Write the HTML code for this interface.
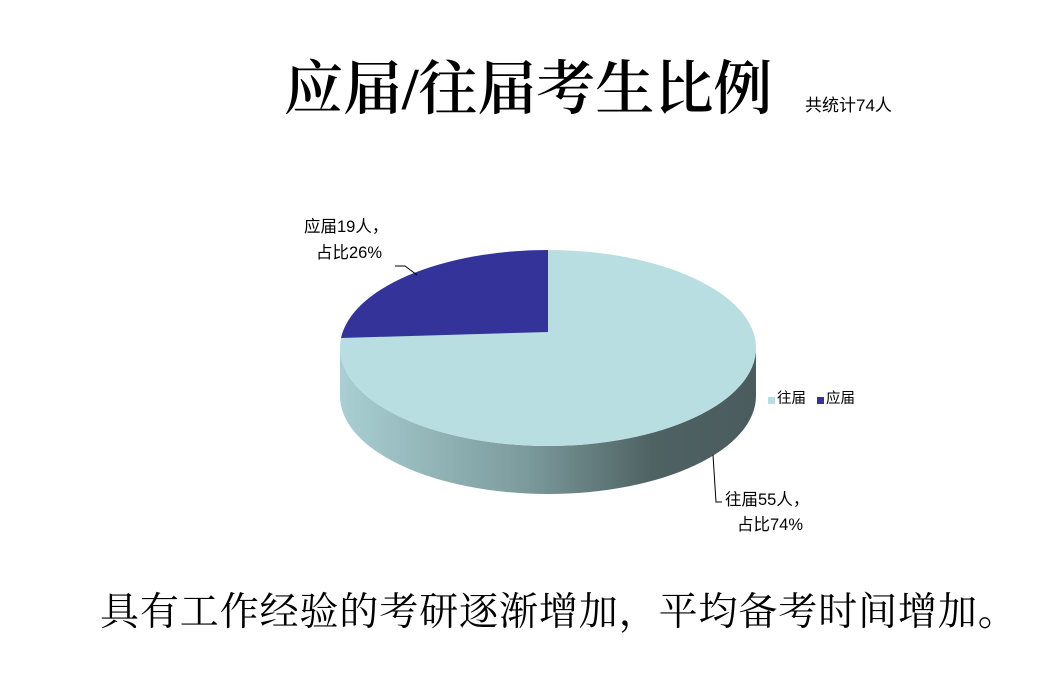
<!DOCTYPE html>
<html><head><meta charset="utf-8"><style>
html,body{margin:0;padding:0;background:#fff;}
body{width:1058px;height:680px;overflow:hidden;position:relative;}
.t{position:absolute;white-space:nowrap;color:#000;}
.s{font-family:"Liberation Sans","Noto Sans CJK SC",sans-serif;font-size:16.5px;line-height:20px;}
</style></head><body>
<div class="t" style="left:284px;top:54px;font-family:'Liberation Serif','Noto Serif CJK SC',serif;font-size:59px;line-height:70px;font-weight:600;">应届/往届考生比例</div>
<div class="t" style="left:805px;top:95px;font-family:'Liberation Sans','Noto Sans CJK SC',sans-serif;font-size:17px;line-height:22px;">共统计74人</div>
<svg style="position:absolute;left:0;top:0" width="1058" height="680">
<defs><linearGradient id="g" x1="340" x2="756" y1="0" y2="0" gradientUnits="userSpaceOnUse">
<stop offset="0" stop-color="#a9cfd2"/><stop offset="0.45" stop-color="#7b9a9c"/><stop offset="0.75" stop-color="#4f6263"/><stop offset="1" stop-color="#4a5c5d"/></linearGradient></defs>
<path d="M340,348 L340,396 A208,98 0 0 0 756,396 L756,348 A208,98 0 0 1 340,348 Z" fill="url(#g)"/>
<ellipse cx="548" cy="348" rx="208" ry="98" fill="#b8dee1"/>
<path d="M548,332 L548,250 A208,98 0 0 0 341,338 Z" fill="#333399"/>
<polyline points="395,266 405,266 417,275" fill="none" stroke="#000" stroke-width="1"/>
<polyline points="713,455 716,502 722,502" fill="none" stroke="#000" stroke-width="1"/>
<rect x="768" y="397" width="7" height="7" fill="#b8dee1"/>
<rect x="817" y="397" width="7" height="7" fill="#333399"/>
</svg>
<div class="t s" style="left:304px;top:217px;">应届19人，</div>
<div class="t s" style="left:316px;top:243px;">占比26%</div>
<div class="t s" style="left:725px;top:490px;">往届55人，</div>
<div class="t s" style="left:737px;top:515px;">占比74%</div>
<div class="t" style="left:777px;top:390px;font-family:'Liberation Sans','Noto Sans CJK SC',sans-serif;font-size:14.5px;line-height:18px;">往届</div>
<div class="t" style="left:826px;top:390px;font-family:'Liberation Sans','Noto Sans CJK SC',sans-serif;font-size:14.5px;line-height:18px;">应届</div>
<div class="t" style="left:100px;top:590px;font-family:'Liberation Serif','Noto Serif CJK SC',serif;font-size:39px;line-height:46px;letter-spacing:0.9px;">具有工作经验的考研逐渐增加，平均备考时间增加。</div>
</body></html>
